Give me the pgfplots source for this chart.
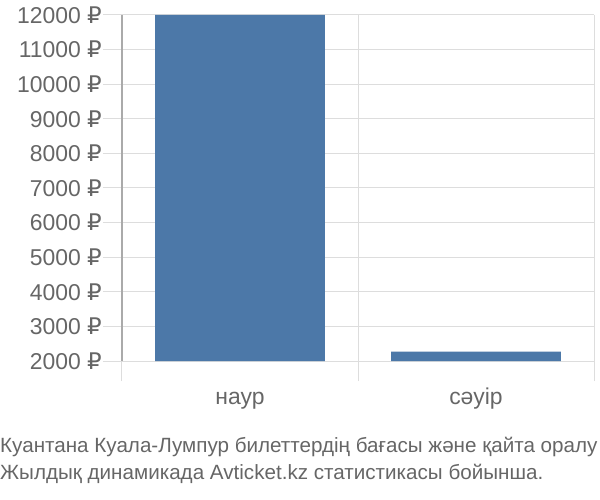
\documentclass[border=0pt]{standalone}
\usepackage{fontspec}
\setmainfont{Liberation Sans}
\newfontfamily\symfont{DejaVu Sans}
\usepackage{pgfplots}
\pgfplotsset{compat=1.18}
\definecolor{barblue}{HTML}{4C78A8}
\definecolor{gridgray}{HTML}{DDDDDD}
\definecolor{axisgray}{HTML}{AAAAAA}
\definecolor{textgray}{HTML}{666666}
\newcommand{\rub}{{\symfont ₽}}
\begin{document}
\begin{tikzpicture}
\path[use as bounding box] (-122bp,-139bp) rectangle (478bp,361bp);
\begin{axis}[
  at={(0,0)}, anchor=south west,
  scale only axis, width=472bp, height=346bp,
  xmin=-0.5, xmax=1.5, ymin=2000, ymax=12000,
  axis lines*=left,
  x axis line style={draw=none},
  y axis line style={axisgray, line width=1.2bp},
  ybar, bar width=0.72,
  xtick={0,1}, xticklabels={наур,сәуір},
  minor xtick={-0.5,0.5,1.5},
  xminorgrids=true, ymajorgrids=true,
  grid style={gridgray, line width=1bp},
  ytick={2000,3000,...,12000},
  scaled y ticks=false,
  yticklabel={\pgfmathprintnumber[1000 sep={}]{\tick} \rub},
  /pgf/number format/assume math mode=true,
  tick align=outside,
  major tick length=19bp, minor tick length=20bp,
  major x tick style={draw=none},
  minor x tick style={gridgray, line width=1bp},
  major y tick style={gridgray, line width=1bp},
  tick label style={textgray, font=\fontsize{23}{26}\selectfont},
  yticklabel style={inner sep=1bp},
  xticklabel style={text height=17bp, text depth=5bp, yshift=-4bp},
]
\addplot[fill=barblue, draw=none] coordinates {(0,12000) (1,2270)};
\end{axis}
\node[anchor=west, text=textgray, font=\fontsize{20.7}{24}\selectfont, inner sep=0pt] at (-122bp,-86bp) {Куантана Куала-Лумпур билеттердің бағасы және қайта оралу};
\node[anchor=west, text=textgray, font=\fontsize{20.7}{24}\selectfont, inner sep=0pt] at (-122bp,-113bp) {Жылдық динамикада Avticket.kz статистикасы бойынша.};
\end{tikzpicture}
\end{document}
